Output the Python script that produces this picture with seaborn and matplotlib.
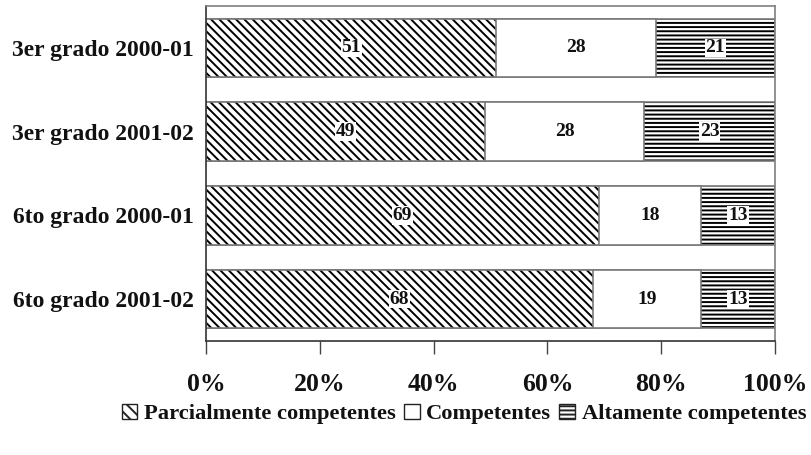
import matplotlib
matplotlib.use("Agg")
import matplotlib.pyplot as plt
from matplotlib.patches import Patch
import seaborn as sns
import pandas as pd

# Niveles de desempeño por grado y ciclo escolar (%)
grados = ["3er grado 2000-01", "3er grado 2001-02", "6to grado 2000-01", "6to grado 2001-02"]
parcialmente = [51, 49, 69, 68]
competentes = [28, 28, 18, 19]
altamente = [21, 23, 13, 13]
niveles = ["Parcialmente competentes", "Competentes", "Altamente competentes"]
xticks = [0, 20, 40, 60, 80, 100]

sns.set_theme(style="white")
plt.rcParams["font.family"] = ["Liberation Serif", "DejaVu Serif"]
plt.rcParams["font.weight"] = "bold"
plt.rcParams["hatch.linewidth"] = 1.4

df = pd.DataFrame({"grado": grados, "p": parcialmente, "c": competentes, "a": altamente})
df["cum_p"] = df["p"]
df["cum_c"] = df["p"] + df["c"]
df["cum_a"] = df["p"] + df["c"] + df["a"]

fig = plt.figure(figsize=(8.12, 4.55), dpi=100)
ax = fig.add_axes([206 / 812, 1 - 341 / 455, (775 - 206) / 812, (341 - 6) / 455])

edge = "#7a7a7a"
diag = "\\\\\\\\"
horiz = "----"
# Stacked bars drawn back to front from cumulative totals
layers = [("cum_a", horiz), ("cum_c", ""), ("cum_p", diag)]
for col, hatch in layers:
    n_before = len(ax.patches)
    sns.barplot(data=df, x=col, y="grado", orient="h", color="white", width=0.7,
                ax=ax, saturation=1)
    for p in ax.patches[n_before:]:
        p.set_facecolor("white")
        p.set_hatch(hatch)
        p.set_edgecolor("black")
        p.set_linewidth(0)
    # gray outline of the same bars
    n_before = len(ax.patches)
    sns.barplot(data=df, x=col, y="grado", orient="h", color="white", width=0.7,
                ax=ax, saturation=1)
    for p in ax.patches[n_before:]:
        p.set_facecolor("none")
        p.set_edgecolor(edge)
        p.set_linewidth(1.2)

# Value labels centred in each segment
for i in range(len(grados)):
    starts = [0, parcialmente[i], parcialmente[i] + competentes[i]]
    vals = [parcialmente[i], competentes[i], altamente[i]]
    for s, v in zip(starts, vals):
        ax.text(s + v / 2, i, f"{v}", ha="center", va="center", fontsize=14,
                fontweight="bold", color="#111111",
                bbox=dict(facecolor="white", edgecolor="none", pad=0.6))

ax.set_xlim(0, 100)
ax.set_ylim(3.5, -0.5)
ax.set_xticks(xticks)
ax.set_xticklabels([f"{t}%" for t in xticks], fontsize=18.5, fontweight="bold", color="#111111")
ax.set_yticks(range(len(grados)))
ax.set_yticklabels(grados, fontsize=17, fontweight="bold", color="#111111")
ax.set_xlabel("")
ax.set_ylabel("")
ax.tick_params(axis="x", direction="out", length=9, width=1, color="#444444", pad=14, bottom=True)
ax.tick_params(axis="y", length=0, pad=9)
for sp in ax.spines.values():
    sp.set_visible(True)
    sp.set_color("#7f7f7f")
    sp.set_linewidth(1.2)
ax.spines["bottom"].set_color("#333333")
ax.spines["left"].set_color("#333333")

# Legend with hatched swatches
handles = [
    Patch(facecolor="white", edgecolor="#222222", hatch="\\\\\\", label=niveles[0]),
    Patch(facecolor="white", edgecolor="#222222", hatch="", label=niveles[1]),
    Patch(facecolor="white", edgecolor="#222222", hatch="----", label=niveles[2]),
]
leg = fig.legend(handles=handles, loc="center", bbox_to_anchor=(464 / 812, 1 - 414 / 455),
                 ncol=3, frameon=False, fontsize=16.2, handlelength=0.7, handleheight=0.7,
                 handletextpad=0.3, columnspacing=0.35, borderaxespad=0)
for t in leg.get_texts():
    t.set_fontweight("bold")
    t.set_color("#111111")

fig.savefig("out.png", dpi=100)
